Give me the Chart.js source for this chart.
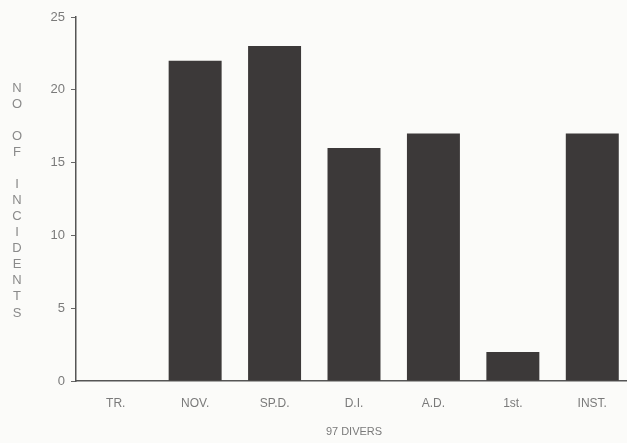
<!DOCTYPE html>
<html>
<head>
<meta charset="utf-8">
<script src="https://cdn.jsdelivr.net/npm/chart.js@4.4.0/dist/chart.umd.min.js"></script>
<style>
  html, body { margin: 0; padding: 0; background: #fbfbf9; overflow: hidden; }
  #wrap { width: 640px; height: 443px; position: relative; }
</style>
</head>
<body>
<div id="wrap"><canvas id="chart"></canvas></div>
<script>
const categories = ["TR.", "NOV.", "SP.D.", "D.I.", "A.D.", "1st.", "INST."];
const incidents = [0, 22, 23, 16, 17, 2, 17];
const yTicks = [0, 5, 10, 15, 20, 25];
const yTitle = "NO OF INCIDENTS";
const xTitle = "97 DIVERS";

const textGrey = "#7a7a7a";

// stacked upright letters for the y axis title
const stackedTitle = {
  id: "stackedTitle",
  afterDraw(chart) {
    const ctx = chart.ctx;
    ctx.save();
    ctx.font = "13px 'Liberation Sans', Arial, sans-serif";
    ctx.fillStyle = "#8a8a8a";
    ctx.textAlign = "center";
    ctx.textBaseline = "middle";
    const letters = yTitle.split("");
    letters.forEach((ch, i) => {
      if (ch !== " ") ctx.fillText(ch, 17, 88 + i * 16.07);
    });
    ctx.restore();
  }
};

new Chart(document.getElementById("chart"), {
  type: "bar",
  data: {
    labels: categories,
    datasets: [{
      label: yTitle,
      data: incidents,
      backgroundColor: "#3c3939",
      barPercentage: 0.667,
      categoryPercentage: 1.0
    }]
  },
  options: {
    responsive: true,
    maintainAspectRatio: false,
    animation: false,
    layout: { padding: { top: 17, right: 8, left: 0, bottom: 0 } },
    plugins: {
      legend: { display: false },
      tooltip: { enabled: false }
    },
    scales: {
      x: {
        grid: { drawOnChartArea: false, drawTicks: false },
        border: { display: true, color: "#555", width: 1.5 },
        ticks: {
          color: textGrey,
          padding: 15,
          font: { family: "'Liberation Sans', Arial, sans-serif", size: 12 }
        },
        title: {
          display: true,
          text: xTitle,
          color: textGrey,
          padding: { top: 4, bottom: 4 },
          font: { family: "'Liberation Sans', Arial, sans-serif", size: 11 }
        },
        afterFit(scale) { scale.height = 62; }
      },
      y: {
        min: 0,
        max: 25,
        afterBuildTicks(scale) { scale.ticks = yTicks.map(v => ({ value: v })); },
        grid: { drawOnChartArea: false, tickLength: 5, color: "#666" },
        border: { display: true, color: "#555", width: 1.5 },
        ticks: {
          color: textGrey,
          padding: 6,
          font: { family: "'Liberation Sans', Arial, sans-serif", size: 13 }
        },
        afterFit(scale) { scale.width = 76; }
      }
    }
  },
  plugins: [stackedTitle]
});
</script>
</body>
</html>
